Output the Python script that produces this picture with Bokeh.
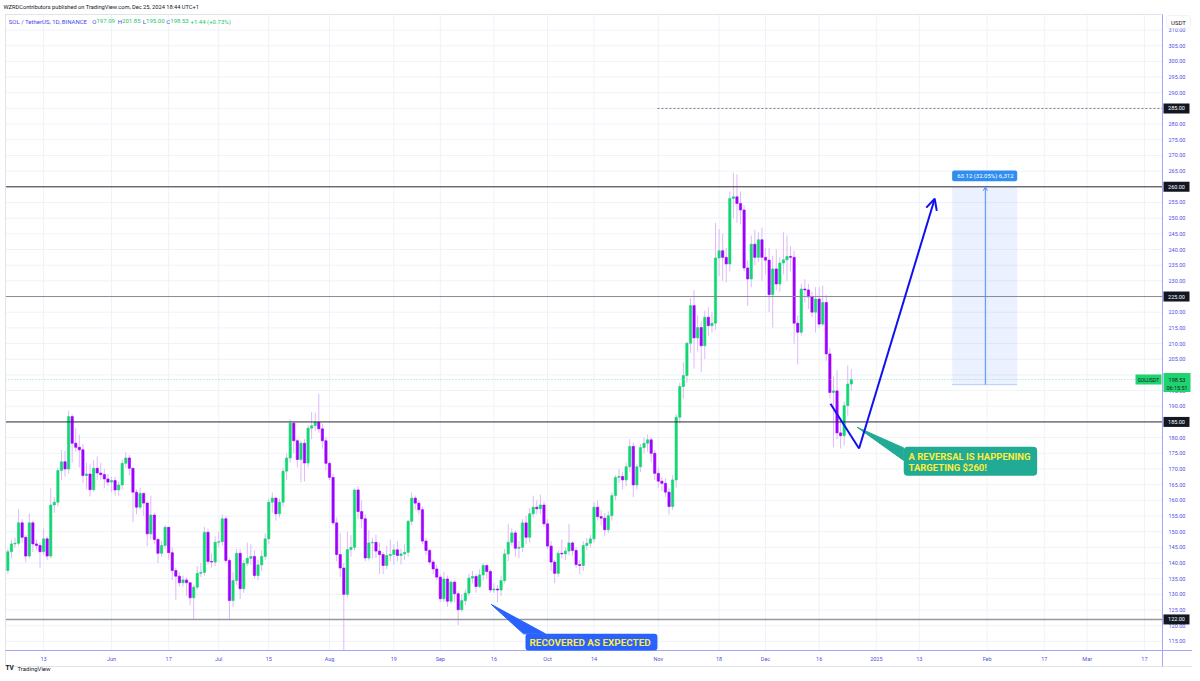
import pandas as pd
from bokeh.plotting import figure
from bokeh.models import Range1d, Label, Arrow, OpenHead, ColumnDataSource, BoxAnnotation
from bokeh.core.properties import value
from bokeh.embed import file_html
from bokeh.resources import INLINE

# ---------------- data (SOL / TetherUS, 1D, BINANCE) ----------------
dates = pd.date_range("2024-05-03", "2024-12-25", freq="D")

opens = [
    137.6, 143.6, 146.1, 146.3, 152.8, 148.2, 142.2, 152.8, 146.1, 145.6,
    143.6, 147.7, 142.2, 158.5, 159.4, 169.5, 172.3, 170.0, 186.7, 178.2,
    176.9, 176.1, 167.9, 168.4, 163.4, 170.2, 168.7, 168.2, 166.8, 165.8,
    166.3, 163.3, 164.9, 171.8, 173.5, 170.2, 162.6, 157.8, 162.2, 159.1,
    149.3, 155.3, 147.5, 143.1, 145.6, 151.4, 143.3, 137.6, 135.8, 133.7,
    134.6, 133.7, 128.9, 132.3, 136.7, 137.0, 149.8, 140.5, 140.3, 146.6,
    146.8, 154.1, 140.8, 128.0, 134.4, 143.1, 131.8, 139.9, 141.5, 142.1,
    136.0, 139.4, 142.1, 147.7, 159.4, 160.7, 155.7, 159.4, 169.3, 173.5,
    184.6, 179.0, 173.0, 178.2, 171.9, 183.0, 183.8, 184.9, 182.8, 179.0,
    171.8, 167.3, 152.8, 142.7, 138.4, 130.0, 144.3, 145.0, 163.3, 156.4,
    154.1, 141.6, 146.4, 146.6, 143.8, 142.7, 139.2, 142.4, 142.7, 144.2,
    142.4, 142.9, 143.4, 153.3, 160.7, 159.1, 157.0, 147.0, 144.0, 140.3,
    138.1, 135.5, 128.6, 134.9, 127.8, 133.9, 130.2, 125.1, 128.0, 130.4,
    135.2, 135.7, 132.5, 136.2, 139.2, 137.3, 131.4, 131.7, 131.4, 134.4,
    142.9, 146.6, 149.6, 144.7, 145.0, 152.8, 148.2, 155.7, 157.8, 157.3,
    158.5, 152.5, 145.4, 140.3, 136.7, 143.1, 142.9, 143.8, 146.4, 144.0,
    139.5, 139.2, 145.6, 146.3, 147.7, 157.8, 154.8, 154.3, 150.6, 155.1,
    161.5, 167.3, 167.6, 166.5, 170.7, 177.2, 164.9, 170.7, 176.8, 178.2,
    179.3, 175.0, 168.6, 166.1, 165.4, 162.6, 158.0, 166.5, 186.5, 196.3,
    199.8, 210.1, 222.1, 211.8, 215.1, 209.3, 218.4, 215.7, 216.5, 237.3,
    239.6, 237.5, 235.4, 256.3, 256.8, 254.7, 252.6, 234.1, 230.6, 241.7,
    237.5, 243.1, 237.5, 236.6, 225.6, 233.8, 229.0, 235.7, 236.7, 237.8,
    237.5, 216.5, 213.6, 227.4, 227.1, 224.9, 220.0, 224.2, 216.2, 223.1,
    206.7, 194.4, 194.9, 181.5, 180.6, 190.2, 197.09,
]

closes = [
    143.6, 146.1, 146.3, 152.8, 148.2, 142.2, 152.8, 146.1, 145.6, 143.6,
    147.7, 142.2, 158.5, 159.4, 169.5, 172.3, 170.0, 186.7, 178.2, 176.9,
    176.1, 167.9, 168.4, 163.4, 170.2, 168.7, 168.2, 166.8, 165.8, 166.3,
    163.3, 164.9, 171.8, 173.5, 170.2, 162.6, 157.8, 162.2, 159.1, 149.3,
    155.3, 147.5, 143.1, 145.6, 151.4, 143.3, 137.6, 135.8, 133.7, 134.6,
    133.7, 128.9, 132.3, 136.7, 137.0, 149.8, 140.5, 140.3, 146.6, 146.8,
    154.1, 140.8, 128.0, 134.4, 143.1, 131.8, 139.9, 141.5, 142.1, 136.0,
    139.4, 142.1, 147.7, 159.4, 160.7, 155.7, 159.4, 169.3, 173.5, 184.6,
    179.0, 173.0, 178.2, 171.9, 183.0, 183.8, 184.9, 182.8, 179.0, 171.8,
    167.3, 152.8, 142.7, 138.4, 130.0, 144.3, 145.0, 163.3, 156.4, 154.1,
    141.6, 146.4, 146.6, 143.8, 142.7, 139.2, 142.4, 142.7, 144.2, 142.4,
    142.9, 143.4, 153.3, 160.7, 159.1, 157.0, 147.0, 144.0, 140.3, 138.1,
    135.5, 128.6, 134.9, 127.8, 133.9, 130.2, 125.1, 128.0, 130.4, 135.2,
    135.7, 132.5, 136.2, 139.2, 137.3, 131.4, 131.7, 131.4, 134.4, 142.9,
    146.6, 149.6, 144.7, 145.0, 152.8, 148.2, 155.7, 157.8, 157.3, 158.5,
    152.5, 145.4, 140.3, 136.7, 143.1, 142.9, 143.8, 146.4, 144.0, 139.5,
    139.2, 145.6, 146.3, 147.7, 157.8, 154.8, 154.3, 150.6, 155.1, 161.5,
    167.3, 167.6, 166.5, 170.7, 177.2, 164.9, 170.7, 176.8, 178.2, 179.3,
    175.0, 168.6, 166.1, 165.4, 162.6, 158.0, 166.5, 186.5, 196.3, 199.8,
    210.1, 222.1, 211.8, 215.1, 209.3, 218.4, 215.7, 216.5, 237.3, 239.6,
    237.5, 235.4, 256.3, 256.8, 254.7, 252.6, 234.1, 230.6, 241.7, 237.5,
    243.1, 237.5, 236.6, 225.6, 233.8, 229.0, 235.7, 236.7, 237.8, 237.5,
    216.5, 213.6, 227.4, 227.1, 224.9, 220.0, 224.2, 216.2, 223.1, 206.7,
    194.4, 194.9, 181.5, 180.6, 190.2, 197.09, 198.53,
]

highs = [
    144.5, 147.5, 148.0, 157.2, 154.0, 149.0, 155.8, 153.5, 147.5, 146.5,
    151.0, 148.5, 164.0, 161.0, 170.5, 176.0, 175.8, 188.6, 187.5, 183.0,
    181.0, 178.0, 172.0, 171.5, 172.8, 174.0, 172.0, 170.0, 168.5, 167.5,
    167.5, 166.0, 173.0, 175.3, 174.5, 170.5, 163.5, 164.0, 162.5, 159.5,
    161.5, 156.0, 148.0, 147.0, 152.0, 151.5, 145.0, 138.5, 137.0, 136.0,
    135.5, 134.0, 133.0, 139.0, 140.0, 151.5, 151.0, 143.0, 148.5, 150.0,
    155.5, 155.0, 141.5, 137.0, 144.5, 144.5, 141.0, 146.5, 146.0, 144.0,
    141.0, 144.0, 149.5, 160.5, 162.5, 161.0, 160.5, 170.5, 175.0, 185.8,
    185.0, 179.5, 179.0, 179.5, 184.0, 188.2, 188.0, 193.9, 184.5, 180.2,
    172.5, 168.5, 154.5, 149.5, 140.0, 150.0, 149.0, 163.8, 164.5, 160.0,
    155.5, 150.5, 148.0, 149.0, 146.5, 143.5, 145.5, 147.5, 146.0, 147.0,
    144.5, 146.0, 153.8, 162.5, 161.5, 160.0, 158.0, 148.0, 144.5, 141.0,
    139.5, 136.5, 137.2, 136.0, 134.5, 134.5, 131.0, 130.0, 131.5, 136.5,
    137.5, 136.5, 138.0, 140.0, 139.5, 138.0, 133.5, 133.0, 136.0, 144.5,
    152.5, 151.0, 150.5, 147.0, 154.0, 155.0, 157.5, 161.5, 160.0, 161.8,
    159.5, 154.0, 147.0, 141.0, 144.0, 147.5, 145.0, 152.5, 147.0, 145.0,
    141.0, 147.0, 148.0, 149.0, 159.5, 160.0, 157.0, 156.0, 156.5, 162.5,
    168.0, 170.0, 169.0, 172.0, 179.5, 178.5, 171.5, 178.0, 180.0, 181.0,
    180.0, 176.0, 170.5, 167.5, 167.0, 164.0, 168.0, 187.5, 197.5, 204.0,
    210.5, 224.5, 227.0, 219.0, 217.0, 220.5, 221.5, 220.0, 248.5, 246.5,
    245.0, 240.5, 258.5, 264.5, 264.0, 258.5, 254.0, 236.5, 244.5, 246.3,
    245.5, 247.0, 240.5, 240.5, 238.0, 240.0, 237.5, 245.5, 244.5, 241.0,
    239.5, 219.0, 229.0, 230.5, 229.0, 226.5, 228.0, 228.0, 228.5, 225.5,
    208.5, 199.5, 201.5, 186.0, 191.5, 203.0, 201.85,
]

lows = [
    136.5, 141.5, 145.0, 145.5, 146.5, 140.2, 141.5, 143.5, 144.0, 138.5,
    142.5, 141.0, 141.5, 156.0, 158.0, 166.5, 167.5, 168.5, 172.0, 175.5,
    170.5, 165.5, 163.5, 161.2, 162.8, 166.5, 166.5, 164.0, 164.5, 162.5,
    161.5, 161.5, 163.5, 170.5, 168.0, 153.0, 155.5, 157.0, 155.0, 145.4,
    147.5, 146.0, 140.0, 142.0, 144.5, 141.0, 134.5, 128.2, 132.5, 132.5,
    129.5, 126.5, 122.2, 131.5, 135.5, 136.0, 139.5, 138.5, 139.0, 145.0,
    145.5, 140.0, 121.7, 126.0, 133.0, 128.5, 130.5, 139.0, 139.5, 135.0,
    134.5, 137.5, 141.0, 146.0, 156.0, 153.5, 154.5, 158.0, 166.5, 172.0,
    175.0, 170.5, 165.8, 166.0, 170.5, 179.5, 182.0, 181.5, 176.5, 169.5,
    166.5, 152.0, 140.5, 135.5, 110.5, 129.0, 142.0, 144.0, 154.0, 151.0,
    140.5, 140.8, 141.5, 141.5, 136.5, 136.5, 138.0, 140.5, 139.5, 140.5,
    139.5, 141.0, 142.0, 152.0, 157.0, 155.5, 146.0, 142.5, 139.5, 136.5,
    134.5, 127.5, 127.5, 126.0, 127.0, 127.5, 120.2, 124.5, 126.5, 129.5,
    133.5, 130.5, 132.0, 134.5, 135.0, 130.5, 130.5, 127.5, 129.5, 133.5,
    140.5, 145.5, 142.0, 141.5, 143.5, 146.0, 146.5, 154.5, 155.5, 155.5,
    151.5, 144.5, 137.5, 133.5, 135.5, 141.5, 141.0, 142.5, 142.5, 138.5,
    136.5, 137.5, 144.0, 145.0, 146.5, 153.5, 152.0, 148.5, 149.5, 153.5,
    160.0, 165.5, 163.5, 164.5, 169.0, 161.0, 163.5, 169.0, 175.0, 175.5,
    172.0, 166.5, 164.0, 163.0, 161.0, 155.5, 157.0, 164.0, 184.5, 192.5,
    197.5, 207.0, 202.0, 207.5, 200.8, 205.0, 212.5, 213.5, 214.5, 231.5,
    230.0, 229.5, 233.0, 250.0, 248.5, 248.0, 233.0, 222.0, 228.0, 235.0,
    236.0, 230.0, 232.0, 220.0, 215.1, 227.0, 226.5, 232.0, 230.0, 233.0,
    210.0, 203.3, 212.5, 223.0, 221.0, 218.5, 213.5, 215.0, 215.5, 204.5,
    192.5, 176.9, 179.5, 176.5, 177.5, 187.0, 195.0,
]

assert len(dates) == len(opens) == len(closes) == len(highs) == len(lows)

tick_dates = ["2024-05-13", "2024-06-01", "2024-06-17", "2024-07-01", "2024-07-15",
              "2024-08-01", "2024-08-19", "2024-09-01", "2024-09-16", "2024-10-01",
              "2024-10-14", "2024-11-01", "2024-11-18", "2024-12-01", "2024-12-16",
              "2025-01-01", "2025-01-13", "2025-02-01", "2025-02-17", "2025-03-01",
              "2025-03-17"]
tick_labels = ["13", "Jun", "17", "Jul", "15", "Aug", "19", "Sep", "16", "Oct", "14",
               "Nov", "18", "Dec", "16", "2025", "13", "Feb", "17", "Mar", "17"]
price_ticks = list(range(115, 315, 5))

level_prices = [285, 260, 225, 185, 122]
level_texts = ["285.00", "260.00", "225.00", "185.00", "122.00"]
level_colors = ["#787b86", "#2a2e39", "#8a8d96", "#2a2e39", "#9598a1"]
last_price = 198.53
countdown = "06:15:51"
symbol = "SOLUSDT"

header_1 = "WZRDContributors published on TradingView.com, Dec 25, 2024 18:44 UTC+1"
header_name = "SOL / TetherUS, 1D, BINANCE"
ohlc_letters = ["O", "H", "L", "C"]
ohlc_values = ["197.09", "201.85", "195.00", "198.53"]
change_text = "+1.44 (+0.73%)"

# drawings (time, price)
arrow_times = ["2024-12-19 04:00", "2024-12-27 04:00", "2025-01-17 08:00"]
arrow_prices = [190.8, 176.5, 256.2]
measure_times = ["2025-01-22 05:00", "2025-01-31 12:00", "2025-02-09 10:00"]
measure_prices = [196.88, 260.0]
measure_text = "63.12 (32.05%) 6,312"
teal_box_times = ["2025-01-08 16:00", "2025-02-15 00:00"]
teal_box_prices = [167.8, 177.1]
teal_tail_times = ["2024-12-26 15:00", "2025-01-08 16:00", "2025-01-08 16:00"]
teal_tail_prices = [183.3, 176.7, 172.7]
teal_text = ["A REVERSAL IS HAPPENING", "TARGETING $260!"]
teal_text_time = "2025-01-10 00:00"
teal_text_prices = [174.1, 170.6]
blue_box_times = ["2024-09-24 20:00", "2024-10-31 18:00"]
blue_box_top = 117.4
blue_tail_times = ["2024-09-15 06:00", "2024-09-24 07:00", "2024-09-30 10:00"]
blue_tail_prices = [126.8, 117.4, 117.4]
blue_text = "RECOVERED AS EXPECTED"
blue_text_time = "2024-09-25 23:00"
blue_text_price = 114.6
dotted_start = "2024-10-31 18:00"

# ---------------- page geometry (pixels of the picture) ----------------
DAY = 86400000.0


def ms(t):
    return pd.Timestamp(t).value / 1e6


W, H = 1192, 673
JUN1 = ms("2024-06-01")
X_JUN1, PX_DAY = 111.0, 3.574          # x pixel of Jun 1 and pixels per day
Y_260, PX_USD = 186.3, 3.135           # y pixel of 260 USDT and pixels per USDT
PANE_L, PANE_R, PANE_T, PANE_B = 5, 1162, 14, 650


def X2D(X):
    return JUN1 + (X - X_JUN1) / PX_DAY * DAY


def Y2P(Y):
    return 260 - (Y - Y_260) / PX_USD


GREEN = "#12d672"
PURPLE = "#9d00ff"
WICK = "#dfb9f9"
AXIS_TXT = "#4f4fe6"
AXIS_LINE = "#a3a5f5"
GRID = "#f0f2f9"
FONT = "Roboto"
F = value(FONT)

p = figure(width=W, height=H, output_backend="svg", toolbar_location=None,
           x_axis_type=None, y_axis_type=None,
           x_range=Range1d(X2D(0), X2D(W)), y_range=Range1d(Y2P(H), Y2P(0)),
           min_border_left=0, min_border_right=0, min_border_top=0, min_border_bottom=0)
p.outline_line_color = None
p.background_fill_color = "white"
p.border_fill_color = "white"

xl, xr = X2D(PANE_L), X2D(PANE_R)
yb, yt = Y2P(PANE_B), Y2P(PANE_T)

# grid
tick_ms = [ms(t) for t in tick_dates]
p.segment(x0=tick_ms, y0=[yb] * len(tick_ms), x1=tick_ms, y1=[yt] * len(tick_ms),
          line_color=GRID, line_width=1)
p.segment(x0=[xl] * len(price_ticks), y0=price_ticks, x1=[xr] * len(price_ticks),
          y1=price_ticks, line_color=GRID, line_width=1)

# measure tool background
p.quad(left=[ms(measure_times[0])], right=[ms(measure_times[2])],
       bottom=[measure_prices[0]], top=[measure_prices[1]],
       fill_color="#2962ff", fill_alpha=0.09, line_color=None)
p.segment(x0=[ms(measure_times[0])], y0=[measure_prices[0]],
          x1=[ms(measure_times[2])], y1=[measure_prices[0]],
          line_color="#b6cdfb", line_width=1)

# candles
xs = [ms(d) for d in dates]
tops = [max(o, c) for o, c in zip(opens, closes)]
bots = [min(o, c) for o, c in zip(opens, closes)]
hi = [max(h, t) for h, t in zip(highs, tops)]
lo = [min(l, b) for l, b in zip(lows, bots)]
cols = [GREEN if c >= o else PURPLE for o, c in zip(opens, closes)]
src = ColumnDataSource(dict(x=xs, top=tops, bottom=bots, high=hi, low=lo, color=cols))
p.segment(x0="x", y0="high", x1="x", y1="low", source=src, line_color=WICK, line_width=1)
p.vbar(x="x", width=0.64 * DAY, top="top", bottom="bottom", source=src,
       fill_color="color", line_color="color", line_width=0.6)

# level lines and last-price line
for lp, lc in zip(level_prices, level_colors):
    if lp == 285:
        p.segment(x0=[ms(dotted_start)], y0=[lp], x1=[xr], y1=[lp],
                  line_color=lc, line_width=1, line_dash="2 2")
    else:
        p.segment(x0=[xl], y0=[lp], x1=[xr], y1=[lp], line_color=lc,
                  line_width=1.4 if lp == 122 else 1)
p.segment(x0=[xl], y0=[last_price], x1=[xr], y1=[last_price], line_color="#8fe3b4",
          line_width=1, line_dash="1 2")

# blue hand-drawn path
axs = [ms(t) for t in arrow_times]
p.line(axs[:2], arrow_prices[:2], line_color="#1010f0", line_width=2)

# callout tails
TEAL = "#22ab94"
BLUE = "#2962ff"
p.patch([ms(t) for t in teal_tail_times], teal_tail_prices, fill_color=TEAL, line_color=TEAL)
p.patch([ms(t) for t in blue_tail_times], blue_tail_prices, fill_color=BLUE, line_color=BLUE)

# cover the scale areas (acts as clipping of the chart pane)
p.quad(left=[X2D(0)], right=[X2D(W)], bottom=[Y2P(H)], top=[yb], fill_color="white",
       line_color=None)
p.quad(left=[xr], right=[X2D(W)], bottom=[Y2P(H)], top=[Y2P(0)], fill_color="white",
       line_color=None)

# pane border and scale lines
p.segment(x0=[xl], y0=[yt], x1=[xr], y1=[yt], line_color="#e0e3eb", line_width=1)
p.segment(x0=[xl], y0=[Y2P(666)], x1=[xl], y1=[yt], line_color="#e0e3eb", line_width=1)
p.segment(x0=[xl], y0=[Y2P(666)], x1=[X2D(W)], y1=[Y2P(666)], line_color="#e0e3eb",
          line_width=1)
p.segment(x0=[xl], y0=[yb], x1=[X2D(W)], y1=[yb], line_color=AXIS_LINE, line_width=1)
p.segment(x0=[xr], y0=[Y2P(666)], x1=[xr], y1=[yt], line_color=AXIS_LINE, line_width=1)

# time-scale labels
p.text(x=tick_ms, y=[Y2P(658)] * len(tick_ms), text=tick_labels, text_font=F,
       text_font_size="5.5px", text_color=AXIS_TXT, text_align="center",
       text_baseline="middle")

# price-scale labels
p.text(x=[X2D(1168)] * len(price_ticks), y=price_ticks,
       text=[f"{v:.2f}" for v in price_ticks], text_font=F, text_font_size="5.5px",
       text_color=AXIS_TXT, text_align="left", text_baseline="middle")

# level boxes on the price scale
box_x = X2D(1176)
p.rect(x=[box_x] * len(level_prices), y=level_prices, width=26, height=10,
       width_units="screen", height_units="screen", fill_color="#131722", line_color=None)
p.text(x=[box_x] * len(level_prices), y=level_prices, text=level_texts, text_font=F,
       text_font_size="5.5px", text_color="white", text_align="center",
       text_baseline="middle")

# last-price boxes
LGREEN = "#1ed46f"
p.rect(x=[X2D(1176.5)], y=[Y2P(382)], width=27, height=19, width_units="screen",
       height_units="screen", fill_color=LGREEN, line_color=None)
p.text(x=[X2D(1176.5)] * 2, y=[last_price, Y2P(387.5)],
       text=[f"{last_price:.2f}", countdown], text_font=F, text_font_size="5.5px",
       text_color="#131722", text_align="center", text_baseline="middle")
p.rect(x=[X2D(1148)], y=[last_price], width=26, height=10, width_units="screen",
       height_units="screen", fill_color=LGREEN, line_color=None)
p.text(x=[X2D(1148)], y=[last_price], text=[symbol], text_font=F, text_font_size="5px",
       text_color="#131722", text_align="center", text_baseline="middle")

# USDT box
p.add_layout(BoxAnnotation(left=X2D(1166), right=X2D(1190), bottom=Y2P(28), top=Y2P(15),
                           fill_color="white", fill_alpha=1, line_color="#d1d4dc",
                           line_width=1, border_radius=3))
p.add_layout(Label(x=X2D(1178), y=Y2P(21.5), text="USDT", text_font=FONT,
                   text_font_size="6px", text_color="#131722", text_align="center",
                   text_baseline="middle"))

# ---------------- drawings ----------------
p.add_layout(Arrow(end=OpenHead(size=4, line_color="#4f8ef7", line_width=1),
                   x_start=ms(measure_times[1]), y_start=measure_prices[0],
                   x_end=ms(measure_times[1]), y_end=measure_prices[1],
                   line_color="#4f8ef7", line_width=1))
p.add_layout(BoxAnnotation(left=ms(measure_times[0]), right=ms(measure_times[2]),
                           bottom=Y2P(180.7), top=Y2P(170), fill_color="#2f8ef0",
                           fill_alpha=1, line_color=None, border_radius=2))
p.add_layout(Label(x=ms(measure_times[1]), y=Y2P(175.4), text=measure_text, text_font=FONT,
                   text_font_size="6px", text_color="white", text_align="center",
                   text_baseline="middle"))

p.add_layout(Arrow(end=OpenHead(size=11, line_color="#1010f0", line_width=2),
                   x_start=axs[1], y_start=arrow_prices[1],
                   x_end=axs[2], y_end=arrow_prices[2],
                   line_color="#1010f0", line_width=2))

p.add_layout(BoxAnnotation(left=ms(teal_box_times[0]), right=ms(teal_box_times[1]),
                           bottom=teal_box_prices[0], top=teal_box_prices[1],
                           fill_color=TEAL, fill_alpha=1, line_color=None, border_radius=4))
for txt, yy in zip(teal_text, teal_text_prices):
    p.add_layout(Label(x=ms(teal_text_time), y=yy, text=txt, text_font=FONT,
                       text_font_size="9.5px", text_font_style="bold",
                       text_color="#ffeb3b", text_baseline="middle"))

p.add_layout(BoxAnnotation(left=ms(blue_box_times[0]), right=ms(blue_box_times[1]),
                           bottom=yb, top=blue_box_top,
                           fill_color=BLUE, fill_alpha=1, line_color=None, border_radius=3))
p.add_layout(Label(x=ms(blue_text_time), y=blue_text_price, text=blue_text, text_font=FONT,
                   text_font_size="9.9px", text_font_style="bold", text_color="#ffeb3b",
                   text_baseline="middle"))

# ---------------- header and footer ----------------
HB, HG, DARK = "#4848e8", "#19c46c", "#131722"
p.add_layout(Label(x=X2D(3), y=Y2P(6.7), text=header_1, text_font=FONT,
                   text_font_size="5.7px", text_color=DARK, text_baseline="middle"))
p.add_layout(Label(x=X2D(8.3), y=Y2P(20.7), text=header_name, text_font=FONT,
                   text_font_size="6px", text_color=HB, text_baseline="middle"))
for lx, vx, letter, val in zip([91.7, 117.3, 142.3, 165.7], [96.0, 121.6, 145.6, 169.8],
                               ohlc_letters, ohlc_values):
    p.add_layout(Label(x=X2D(lx), y=Y2P(20.7), text=letter, text_font=FONT,
                       text_font_size="6px", text_color=HB, text_baseline="middle"))
    p.add_layout(Label(x=X2D(vx), y=Y2P(20.7), text=val, text_font=FONT,
                       text_font_size="6px", text_color=HG, text_baseline="middle"))
p.add_layout(Label(x=X2D(190), y=Y2P(20.7), text=change_text, text_font=FONT,
                   text_font_size="6px", text_color=HG, text_baseline="middle"))

p.add_layout(Label(x=X2D(5), y=Y2P(667.5), text="TV", text_font=FONT,
                   text_font_size="6.5px", text_font_style="bold", text_color=DARK,
                   text_baseline="middle"))
p.add_layout(Label(x=X2D(17), y=Y2P(667.5), text="TradingView", text_font=FONT,
                   text_font_size="6px", text_color=DARK, text_baseline="middle"))

open("out.html", "w").write(file_html(p, INLINE))
